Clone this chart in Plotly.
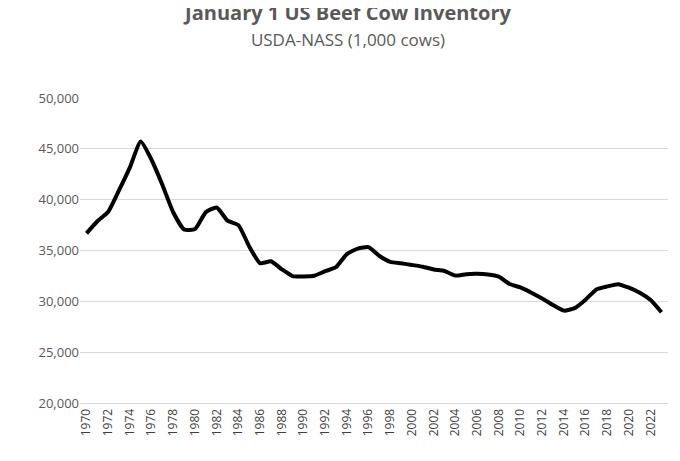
import plotly.graph_objects as go

years = list(range(1970, 2024))
cows = [36689, 37878, 38810, 40932, 43182, 45712, 43901, 41443, 38738, 37062,
        37107, 38773, 39230, 37940, 37494, 35393, 33743, 33945, 33153, 32488,
        32454, 32520, 32964, 33365, 34650, 35190, 35325, 34458, 33885, 33745,
        33575, 33398, 33134, 32983, 32531, 32674, 32703, 32644, 32435, 31712,
        31371, 30850, 30282, 29631, 29085, 29332, 30164, 31171, 31466, 31691,
        31338, 30841, 30125, 28918]
tick_years = list(range(1970, 2024, 2))

fig = go.Figure(go.Scatter(x=years, y=cows, mode="lines",
                           line=dict(color="black", width=4, shape="spline", smoothing=0.5)))
fig.update_layout(
    width=680, height=461, paper_bgcolor="white", plot_bgcolor="white",
    margin=dict(l=72, r=20, t=90, b=66, autoexpand=False),
    font=dict(family="Open Sans, Liberation Sans, sans-serif", color="#595959"),
    title=dict(text="<b>January 1 US Beef Cow Inventory</b><br><span style='font-size:17px'>USDA-NASS (1,000 cows)</span>",
               x=0.5, xanchor="center", y=0.975, yanchor="top", font=dict(size=20, color="#595959")),
    showlegend=False,
)
fig.update_xaxes(range=[1969.4, 2023.6], tickmode="array", tickvals=tick_years,
                 ticktext=[str(y) for y in tick_years], tickangle=-90,
                 tickfont=dict(size=12, color="#404040"), showgrid=False,
                 showline=True, linecolor="#d9d9d9", ticks="")
fig.update_yaxes(range=[20000, 50000], dtick=5000, tickformat=",",
                 tickfont=dict(size=13, color="#595959"), gridcolor="#d9d9d9",
                 zeroline=False, showline=False)
fig.write_html("out.html")
